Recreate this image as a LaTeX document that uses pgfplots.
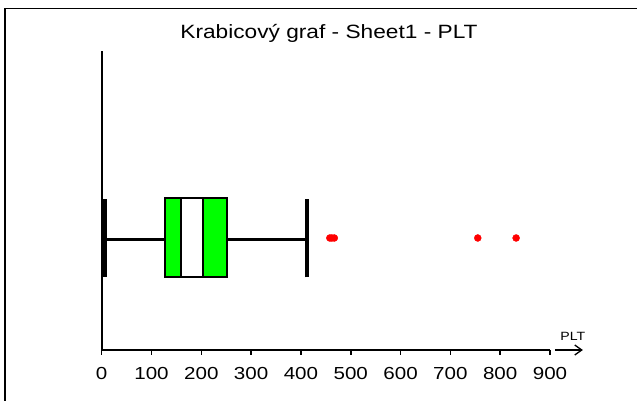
\documentclass[border=0pt]{standalone}
\usepackage{fontspec}
\setmainfont[FakeStretch=1.18]{Liberation Sans}
\usepackage{pgfplots}
\pgfplotsset{compat=1.18}
\usetikzlibrary{arrows.meta}
\begin{document}
\begin{tikzpicture}
\useasboundingbox (0,0) rectangle (637bp,401bp);
\draw[line width=1.5bp] (5bp,-5bp) -- (5bp,392.5bp) -- (645bp,392.5bp);
\begin{axis}[
  at={(101.7bp,51bp)}, anchor=south west,
  scale only axis, width=448.3bp, height=299.3bp,
  xmin=0, xmax=900, ymin=0, ymax=299.3,
  axis x line=bottom, axis y line=left,
  axis line style={-, line width=2bp, black},
  ytick=\empty,
  xtick={0,100,...,900},
  tick align=outside,
  major tick length=5bp,
  xtick style={line width=1.5bp, black},
  xticklabel style={font=\fontsize{17.5}{20}\selectfont, anchor=base, yshift=-24bp},
  /pgf/number format/assume math mode=true,
  clip=false,
]
\addplot[draw=black, line width=2.7bp] coordinates {(5.6,110.7)(127,110.7)};
\addplot[draw=black, line width=2.7bp] coordinates {(251,110.7)(413,110.7)};
\addplot[draw=black, fill=green, line width=1.8bp] coordinates {(127,72.7)(251,72.7)(251,151.7)(127,151.7)} -- cycle;
\addplot[draw=black, fill=white, line width=1.8bp] coordinates {(159,72.7)(204,72.7)(204,151.7)(159,151.7)} -- cycle;
\addplot[draw=black, line width=5.5bp] coordinates {(5.6,72.7)(5.6,151.2)};
\addplot[draw=black, line width=4bp] coordinates {(413,72.7)(413,151.2)};
\addplot[only marks, mark=*, mark size=3.5bp, red, mark options={draw=red, fill=red}] coordinates {(458,112)(462,112)(467,112)(755,112)(832,112)};
\draw[-{Straight Barb[length=7bp,width=10bp]}, line width=1.3bp] (axis cs:910,0) -- (axis cs:966,0);
\node[font=\fontsize{12}{14}\selectfont] at (axis cs:946,13.5) {PLT};
\end{axis}
\node[anchor=base, font=\fontsize{19.3}{22}\selectfont] at (329bp,362.7bp) {Krabicový graf - Sheet1 - PLT};
\end{tikzpicture}
\end{document}
